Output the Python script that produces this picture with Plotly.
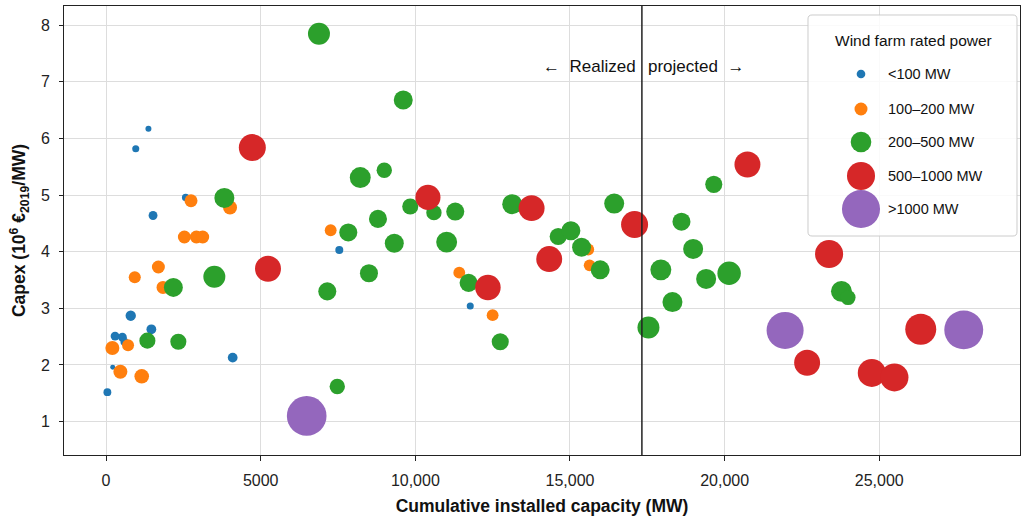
import numpy as np
import plotly.graph_objects as go

# ---------------- data ----------------
categories = ["<100 MW", "100\u2013200 MW", "200\u2013500 MW", "500\u20131000 MW", ">1000 MW"]
colors = ["#1f77b4", "#ff7f0e", "#2ca02c", "#d62728", "#9467bd"]

# <100 MW
blue_x = [43, 216, 291, 528, 592, 798, 960, 1370, 1465, 1519, 2575, 4094, 7541, 11775]
blue_y = [1.52, 1.96, 2.51, 2.49, 2.41, 2.87, 5.82, 6.17, 2.63, 4.64, 4.96, 2.13, 4.03, 3.04]
blue_p = [55, 22, 70, 70, 55, 95, 44, 32, 85, 70, 50, 85, 57, 44]

# 100-200 MW
orange_x = [204, 463, 711, 928, 1153, 1692, 1842, 2532, 2747, 2920, 3125, 4008, 7262, 11420, 12498, 15590, 15633]
orange_y = [2.30, 1.88, 2.35, 3.55, 1.80, 3.73, 3.37, 4.26, 4.90, 4.26, 4.26, 4.78, 4.38, 3.63, 2.88, 4.04, 3.76]
orange_p = [175, 175, 128, 130, 190, 150, 150, 150, 150, 150, 150, 175, 125, 125, 125, 125, 120]

# 200-500 MW
green_x = [1336, 2176, 2337, 3501, 3825, 6884, 7153, 7476, 7832, 8219, 8500, 8791, 8995, 9319, 9609,
           9835, 10601, 11012, 11290, 11722, 12745, 13132, 14618, 15029, 15374, 15976, 16429, 17537,
           17938, 18313, 18604, 18982, 19402, 19649, 20145, 23777, 23991]
green_y = [2.43, 3.37, 2.41, 3.56, 4.95, 7.85, 3.30, 1.62, 4.34, 5.31, 3.62, 4.58, 5.44, 4.15, 6.68,
           4.80, 4.69, 4.17, 4.71, 3.45, 2.41, 4.84, 4.27, 4.37, 4.08, 3.68, 4.85, 2.66,
           3.68, 3.11, 4.53, 4.05, 3.52, 5.19, 3.62, 3.30, 3.19]
green_p = [230, 320, 230, 430, 356, 430, 290, 210, 290, 390, 290, 290, 210, 320, 320,
           230, 210, 390, 290, 290, 260, 356, 260, 320, 320, 320, 356, 430,
           390, 356, 290, 356, 356, 260, 490, 390, 200]

# 500-1000 MW
red_x = [4729, 5236, 10407, 12346, 13758, 14328, 17088, 20737, 22667, 23377, 24758, 25490, 26341]
red_y = [5.84, 3.70, 4.96, 3.37, 4.77, 3.87, 4.48, 5.54, 2.04, 3.96, 1.86, 1.78, 2.63]
red_p = [650, 600, 560, 580, 600, 600, 650, 600, 600, 700, 700, 700, 855]

# >1000 MW
purple_x = [6487, 21955, 27731]
purple_y = [1.10, 2.61, 2.62]
purple_p = [1400, 1220, 1350]

legend_power = [67, 150, 380, 700, 1290]

x_tickvals = [0, 5000, 10000, 15000, 20000, 25000]
x_ticktext = ["0", "5000", "10,000", "15,000", "20,000", "25,000"]
y_tickvals = [1, 2, 3, 4, 5, 6, 7, 8]

split_x = 17325  # realized / projected boundary

# ---------------- layout constants ----------------
W, H = 1022, 516
ML, MR, MT, MB = 64, 2, 6, 61
PW, PH = W - ML - MR, H - MT - MB
FONT = "Liberation Sans, Arial, sans-serif"
SIZE_K = 1.06


def size_of(p):
    return SIZE_K * np.sqrt(np.asarray(p, dtype=float))


def px2paper_x(px):
    return (px - ML) / PW


def px2paper_y(py):
    return (H - MB - py) / PH


fig = go.Figure()
series = [
    (blue_x, blue_y, blue_p),
    (orange_x, orange_y, orange_p),
    (green_x, green_y, green_p),
    (red_x, red_y, red_p),
    (purple_x, purple_y, purple_p),
]
for (xs, ys, ps), name, col in zip(series, categories, colors):
    fig.add_trace(go.Scatter(
        x=xs, y=ys, mode="markers", name=name, showlegend=False,
        marker=dict(color=col, size=size_of(ps), sizemode="diameter", opacity=1,
                    line=dict(width=0)),
    ))

shapes = []
annotations = []

# vertical split line
shapes.append(dict(type="line", xref="x", yref="paper", x0=split_x, x1=split_x, y0=0, y1=1,
                   line=dict(color="#222222", width=1.5), layer="above"))

annotations.append(dict(xref="x", yref="y", x=split_x, y=7.28, xanchor="right", yanchor="middle",
                        xshift=-4, text="\u2190  Realized", showarrow=False,
                        font=dict(family=FONT, size=17, color="#111111")))
annotations.append(dict(xref="x", yref="y", x=split_x, y=7.28, xanchor="left", yanchor="middle",
                        xshift=4, text="projected  \u2192", showarrow=False,
                        font=dict(family=FONT, size=17, color="#111111")))

# custom legend box (rounded rectangle)
bx0, by0, bx1, by1, rr = 808, 15, 1017, 236, 4


def P(px, py):
    return f"{px2paper_x(px):.5f},{px2paper_y(py):.5f}"


path = (f"M {P(bx0 + rr, by0)} L {P(bx1 - rr, by0)} Q {P(bx1, by0)} {P(bx1, by0 + rr)} "
        f"L {P(bx1, by1 - rr)} Q {P(bx1, by1)} {P(bx1 - rr, by1)} "
        f"L {P(bx0 + rr, by1)} Q {P(bx0, by1)} {P(bx0, by1 - rr)} "
        f"L {P(bx0, by0 + rr)} Q {P(bx0, by0)} {P(bx0 + rr, by0)} Z")
shapes.append(dict(type="path", xref="paper", yref="paper", path=path,
                   fillcolor="rgba(255,255,255,0.85)", line=dict(color="#cccccc", width=1),
                   layer="above"))

annotations.append(dict(xref="paper", yref="paper", x=px2paper_x(913), y=px2paper_y(41),
                        xanchor="center", yanchor="middle", text="Wind farm rated power",
                        showarrow=False, font=dict(family=FONT, size=15.5, color="#111111")))
leg_y = [74, 109, 142, 176, 209]
for name, col, p, ly in zip(categories, colors, legend_power, leg_y):
    r = float(size_of(p)) / 2
    shapes.append(dict(type="circle", xref="paper", yref="paper",
                       xsizemode="pixel", ysizemode="pixel",
                       xanchor=px2paper_x(861), yanchor=px2paper_y(ly),
                       x0=-r, x1=r, y0=-r, y1=r,
                       fillcolor=col, line=dict(width=0), layer="above"))
    annotations.append(dict(xref="paper", yref="paper", x=px2paper_x(886), y=px2paper_y(ly),
                            xanchor="left", yanchor="middle", text=name, showarrow=False,
                            font=dict(family=FONT, size=14.5, color="#111111")))

fig.update_layout(
    width=W, height=H,
    margin=dict(l=ML, r=MR, t=MT, b=MB, autoexpand=False),
    paper_bgcolor="white", plot_bgcolor="white",
    font=dict(family=FONT, size=16, color="#222222"),
    shapes=shapes, annotations=annotations,
    showlegend=False,
)
fig.update_xaxes(
    range=[-1360, 29550], tickvals=x_tickvals, ticktext=x_ticktext,
    showgrid=True, gridcolor="#dddddd", gridwidth=1, zeroline=False,
    showline=True, linecolor="#222222", linewidth=1, mirror=True,
    ticks="outside", ticklen=5, tickcolor="#222222", ticklabelstandoff=6,
    tickfont=dict(family=FONT, size=16, color="#222222"),
    title=dict(text="<b>Cumulative installed capacity (MW)</b>", standoff=12,
               font=dict(family=FONT, size=17.5, color="#111111")),
)
fig.update_yaxes(
    range=[0.41, 8.34], tickvals=y_tickvals,
    showgrid=True, gridcolor="#dddddd", gridwidth=1, zeroline=False,
    showline=True, linecolor="#222222", linewidth=1, mirror=True,
    ticks="outside", ticklen=4, tickcolor="#222222", ticklabelstandoff=6,
    tickfont=dict(family=FONT, size=16, color="#222222"),
    title=dict(text="<b>Capex (10<sup>6</sup> \u20ac<sub>2019</sub>/MW)</b>", standoff=10,
               font=dict(family=FONT, size=17.5, color="#111111")),
)

fig.write_html("out.html")
